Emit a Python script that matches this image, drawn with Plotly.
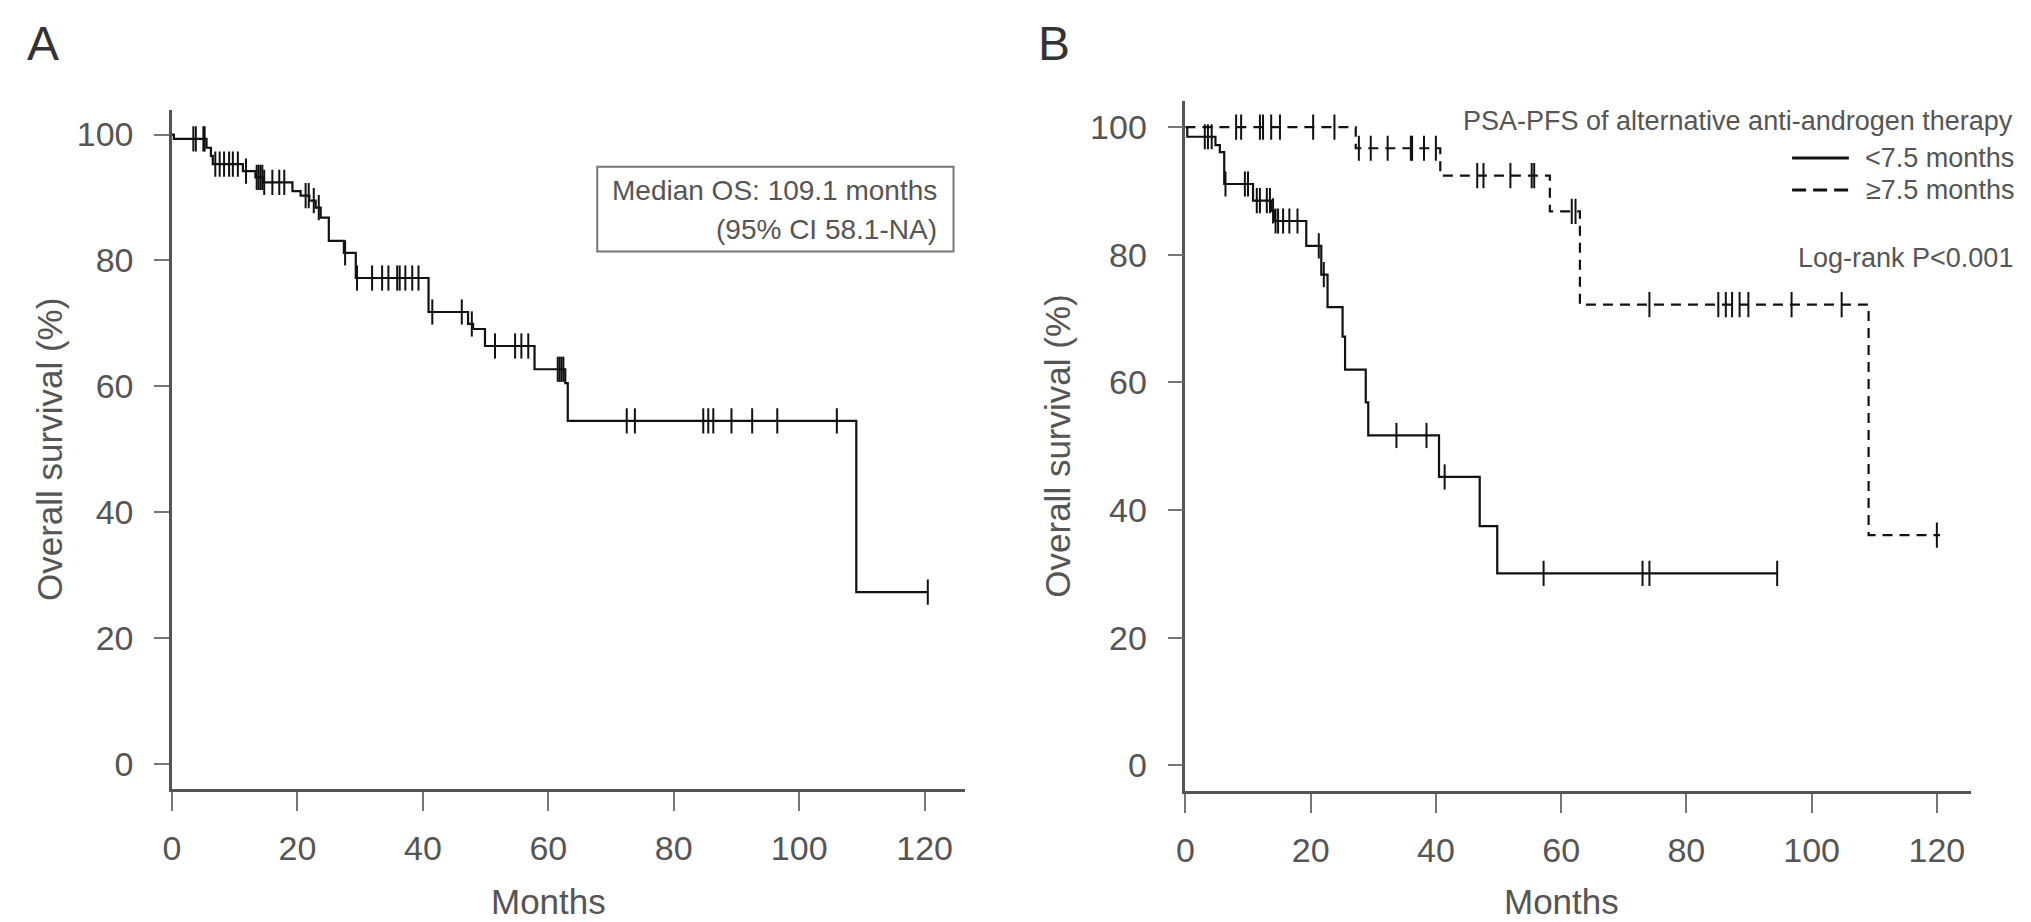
import plotly.graph_objects as go

W, H = 2031, 922
FONT = "Liberation Sans"
GREY = "#555555"

# ---- panel A: whole cohort (months, survival %) ----
a_event_times = [0.3, 5.5, 6.2, 6.5, 11.3, 13.3, 14.5, 19.2, 20.5, 21.9, 22.9, 23.7,
                 25.0, 27.4, 29.3, 40.9, 47.2, 48.0, 49.9, 57.8, 62.7, 63.1, 109.1]
a_event_surv = [99.3, 97.9, 96.6, 95.3, 94.2, 93.2, 92.4, 91.0, 90.3, 89.5, 88.4, 86.8,
                83.1, 81.2, 77.2, 71.8, 69.9, 69.1, 66.4, 62.7, 60.5, 54.5, 27.3]
a_last = 120.5
a_censor = [3.4, 3.8, 5.0, 5.2, 6.9, 7.6, 8.3, 9.1, 9.7, 10.5, 11.8, 13.5, 13.8, 14.1,
            14.4, 14.7, 16.0, 17.1, 17.9, 21.3, 21.8, 22.6, 23.4, 27.6, 29.5, 31.9,
            33.5, 34.5, 35.9, 36.3, 37.2, 38.3, 39.3, 41.5, 46.2, 47.8, 51.5, 54.7,
            55.7, 56.8, 61.5, 61.8, 62.1, 62.4, 72.5, 73.8, 84.7, 85.5, 86.3, 89.2,
            92.5, 96.5, 106.0, 120.5]

# ---- panel B: by PSA-PFS of alternative anti-androgen therapy ----
b_short_times = [0.3, 4.8, 5.5, 6.2, 10.8, 13.7, 14.2, 19.3, 21.7, 22.7, 25.1, 25.5,
                 28.8, 29.2, 40.5, 47.0, 49.8]
b_short_surv = [98.5, 97.2, 96.1, 91.1, 88.5, 86.9, 85.3, 81.4, 76.9, 71.8, 67.2, 62.0,
                56.9, 51.7, 45.2, 37.5, 30.1]
b_short_last = 94.5
b_short_censor = [3.1, 3.6, 4.2, 6.4, 9.5, 10.0, 11.4, 11.9, 13.0, 13.5, 14.0, 14.4,
                  14.8, 15.6, 16.6, 17.9, 21.3, 22.1, 33.7, 38.5, 41.4, 57.2, 73.0,
                  74.1, 94.5]

b_long_times = [27.2, 40.7, 58.2, 63.0, 109.1]
b_long_surv = [96.7, 92.4, 86.8, 72.2, 36.1]
b_long_last = 120.5
b_long_censor = [8.1, 8.9, 11.9, 12.4, 13.7, 15.1, 20.4, 23.8, 27.7, 29.6, 32.3, 36.0,
                 36.2, 38.1, 40.0, 46.6, 47.6, 51.9, 55.3, 55.7, 61.7, 62.3, 74.1,
                 85.1, 86.3, 87.3, 88.5, 89.9, 96.8, 104.8, 120.0]

x_ticks = [0, 20, 40, 60, 80, 100, 120]
y_ticks = [0, 20, 40, 60, 80, 100]


def step_xy(times, surv, last):
    return [0] + times + [last], [100] + surv + [surv[-1]]


def level_at(t, times, surv):
    lvl = 100
    for tt, s in zip(times, surv):
        if tt <= t:
            lvl = s
    return lvl


def add_km(fig, times, surv, last, censor, xa, ya, dash):
    xs, ys = step_xy(times, surv, last)
    fig.add_trace(go.Scatter(x=xs, y=ys, mode="lines", line_shape="hv",
                             line=dict(color="#111111", width=2.2, dash=dash),
                             xaxis=xa, yaxis=ya, showlegend=False, hoverinfo="skip"))
    # censor ticks sit on the curve level at their time
    fig.add_trace(go.Scatter(x=censor, y=[level_at(c, times, surv) for c in censor],
                             mode="markers", xaxis=xa, yaxis=ya, showlegend=False,
                             marker=dict(symbol="line-ns", size=18,
                                         line=dict(color="#111111", width=2))))


fig = go.Figure()
add_km(fig, a_event_times, a_event_surv, a_last, a_censor, "x", "y", "solid")
add_km(fig, b_short_times, b_short_surv, b_short_last, b_short_censor, "x2", "y2", "solid")
add_km(fig, b_long_times, b_long_surv, b_long_last, b_long_censor, "x2", "y2", "10px,7px")

tickfont = dict(family=FONT, size=34, color=GREY)
xcommon = dict(tickvals=x_ticks, ticks="outside", ticklen=19, tickwidth=2, tickcolor="#777",
               showline=True, linecolor=GREY, linewidth=2.5, showgrid=False,
               zeroline=False, tickfont=tickfont, ticklabelstandoff=8)
ycommon = dict(tickvals=y_ticks, ticks="outside", ticklen=15, tickwidth=2, tickcolor="#777",
               showline=True, linecolor=GREY, linewidth=2.5, showgrid=False,
               zeroline=False, tickfont=tickfont, ticklabelstandoff=14)

fig.update_layout(
    width=W, height=H, autosize=False,
    margin=dict(l=0, r=0, t=0, b=0),
    paper_bgcolor="white", plot_bgcolor="white",
    xaxis=dict(xcommon, range=[0, 126.5], domain=[155.7 / W, (155.7 + 126.5 * 6.3) / W], anchor="y"),
    yaxis=dict(ycommon, range=[-4, 103.9], domain=[1 - 781 / H, 1 - 102 / H], anchor="x"),
    xaxis2=dict(xcommon, range=[0, 125.5], domain=[1173.6 / W, (1173.6 + 125.5 * 6.29) / W], anchor="y2"),
    yaxis2=dict(ycommon, range=[-4, 104.1], domain=[1 - 783 / H, 1 - 93 / H], anchor="x2"),
)

ann = []
txt = dict(family=FONT, color=GREY)
# panel letters
ann.append(dict(text="A", x=8 / W, y=1 - 36 / H, xref="paper", yref="paper",
                xanchor="left", yanchor="middle", showarrow=False,
                font=dict(family=FONT, size=48, color="#333")))
ann.append(dict(text="B", x=1024 / W, y=1 - 36 / H, xref="paper", yref="paper",
                xanchor="left", yanchor="middle", showarrow=False,
                font=dict(family=FONT, size=48, color="#333")))
# axis titles
for xr, yr, xp in [("x", "y", 32), ("x2", "y2", 1045)]:
    ann.append(dict(text="Overall survival (%)", textangle=-90, x=xp / W, y=50,
                    xref="paper", yref=yr, xanchor="center", yanchor="middle",
                    showarrow=False, font=dict(txt, size=35)))
    ann.append(dict(text="Months", x=60, y=1 - 893 / H, xref=xr, yref="paper",
                    xanchor="center", yanchor="middle", showarrow=False,
                    font=dict(txt, size=35)))

# median OS box (panel A)
ann.append(dict(text="Median OS: 109.1 months", x=122.3, y=91.1, xref="x", yref="y",
                xanchor="right", yanchor="middle", showarrow=False, font=dict(txt, size=28)))
ann.append(dict(text="(95% CI 58.1-NA)", x=122.3, y=84.9, xref="x", yref="y",
                xanchor="right", yanchor="middle", showarrow=False, font=dict(txt, size=28)))

# legend and log-rank (panel B)
ann.append(dict(text="PSA-PFS of alternative anti-androgen therapy", x=2007 / W,
                y=1 - 113 / H, xref="paper", yref="paper", xanchor="right",
                yanchor="middle", showarrow=False, font=dict(txt, size=27)))
ann.append(dict(text="&lt;7.5 months", x=2008 / W, y=1 - 150 / H, xref="paper",
                yref="paper", xanchor="right", yanchor="middle", showarrow=False,
                font=dict(txt, size=27)))
ann.append(dict(text="≥7.5 months", x=2008 / W, y=1 - 182 / H, xref="paper",
                yref="paper", xanchor="right", yanchor="middle", showarrow=False,
                font=dict(txt, size=27)))
ann.append(dict(text="Log-rank P&lt;0.001", x=2007 / W, y=1 - 250 / H, xref="paper",
                yref="paper", xanchor="right", yanchor="middle", showarrow=False,
                font=dict(txt, size=27)))

shapes = [
    dict(type="rect", xref="x", yref="y", x0=67.8, x1=124.6, y0=81.4, y1=94.9,
         line=dict(color="#777", width=2), fillcolor="rgba(0,0,0,0)"),
    dict(type="line", xref="paper", yref="paper", x0=1783 / W, x1=1840 / W,
         y0=1 - 150 / H, y1=1 - 150 / H, line=dict(color="#111", width=3)),
    dict(type="line", xref="paper", yref="paper", x0=1783 / W, x1=1840 / W,
         y0=1 - 182 / H, y1=1 - 182 / H, line=dict(color="#111", width=3, dash="14px,7px")),
]

fig.update_layout(annotations=ann, shapes=shapes)
fig.write_html("out.html")
